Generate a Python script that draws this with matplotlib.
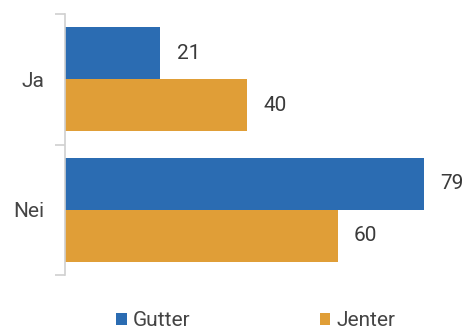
import matplotlib.pyplot as plt
import numpy as np

categories = ['Ja', 'Nei']
gutter = [21, 79]
jenter = [40, 60]
series_names = ['Gutter', 'Jenter']
colors = ['#2b6cb2', '#e09e37']

plt.rcParams['font.family'] = ['Roboto', 'DejaVu Sans']

fig = plt.figure(figsize=(4.67, 3.33), dpi=100)
ax = fig.add_axes([65 / 467, 1 - 275 / 333, 395 / 467, 261 / 333])

y = np.arange(len(categories))
h = 0.4
b1 = ax.barh(y - h / 2, gutter, height=h, color=colors[0], label=series_names[0])
b2 = ax.barh(y + h / 2, jenter, height=h, color=colors[1], label=series_names[1])

for bars, vals in [(b1, gutter), (b2, jenter)]:
    for bar, v in zip(bars, vals):
        ax.text(bar.get_width() + 3.6, bar.get_y() + bar.get_height() / 2, str(v),
                va='center', ha='left', fontsize=15, color='#3a3a3a')

ax.set_xlim(0, 395 / 4.544)
ax.set_ylim(1.5, -0.5)

# tick marks at category boundaries, labels at centres
ax.set_yticks([-0.5, 0.5, 1.5])
ax.set_yticklabels([])
ax.set_yticks(y, minor=True)
ax.set_yticklabels(categories, minor=True, fontsize=15, color='#444444')
ax.tick_params(axis='y', which='major', length=7, width=1.2, color='#d0d0d0')
ax.tick_params(axis='y', which='minor', length=0, pad=15)
ax.set_xticks([])

for s in ['top', 'right', 'bottom']:
    ax.spines[s].set_visible(False)
ax.spines['left'].set_color('#d0d0d0')
ax.spines['left'].set_linewidth(1.2)

fig.legend(handles=[b1, b2], labels=series_names, loc='center',
           bbox_to_anchor=(256 / 467, 1 - 321 / 333), ncol=2, frameon=False,
           fontsize=15, handlelength=0.5, handleheight=0.5,
           handletextpad=0.3, columnspacing=6.2, labelcolor='#444444')

fig.savefig('out.png', dpi=100)
